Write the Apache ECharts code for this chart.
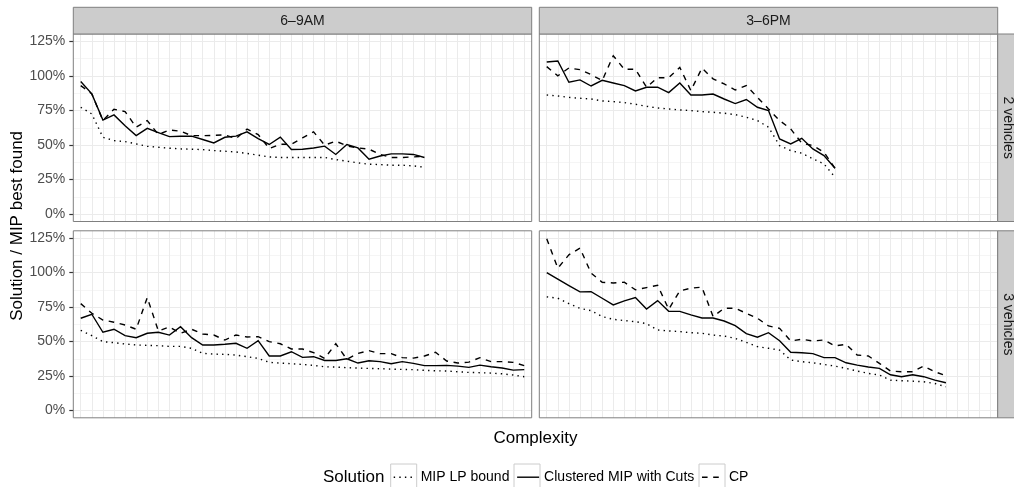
<!DOCTYPE html>
<html>
<head>
<meta charset="utf-8">
<script src="https://cdn.jsdelivr.net/npm/echarts@6/dist/echarts.min.js"></script>
<style>
  html, body { margin: 0; padding: 0; background: #fff; }
  #chart { width: 1014px; height: 487px; }
</style>
</head>
<body>
<div id="chart"></div>
<script>
// facet labels
const timeLabels = ['6–9AM', '3–6PM']
const vehicleLabels = ['2 vehicles', '3 vehicles']
const seriesNames = ['MIP LP bound', 'Clustered MIP with Cuts', 'CP']

// complexity levels (discrete x, unlabeled)
const complexityCount = 41
const yMajor = [0, 25, 50, 75, 100, 125]
const yMinor = [12.5, 37.5, 62.5, 87.5, 112.5]

// 6-9AM, 2 vehicles
const am2Lp = [77.3, 72.5, 55.6, 53.2, 52.5, 50.8, 49.1, 48.4, 47.7, 47.2, 47, 46.7, 46, 45.5, 45, 43.9, 42.7, 41.4, 41, 41, 41, 41, 41, 39.5, 38.3, 37.1, 36.1, 35.9, 35.4, 35.4, 34.9, 34]
const am2Mip = [95.9, 87, 68, 71.8, 64, 56.8, 62.1, 59, 56.1, 56.4, 56.4, 54, 51.5, 55.6, 56.4, 59.5, 54.7, 50.4, 55.7, 46.8, 47, 47.9, 49.2, 43.2, 50.4, 47.9, 39.8, 42.1, 43.6, 43.6, 43.2, 41]
const am2Cp = [93, 87, 67.7, 75.9, 74.2, 62.9, 67.7, 57.6, 60.9, 60, 56.8, 56.8, 57, 57.3, 54.7, 61.5, 57.6, 47.5, 50.6, 50.6, 55.2, 59.5, 49.9, 52.8, 49.4, 47.9, 47, 43.2, 41, 41, 41.4, 41.9]

// 3-6PM, 2 vehicles
const pm2Lp = [86.2, 85.5, 84.5, 83.8, 83.3, 81.9, 81.4, 80.7, 79.5, 78, 76.8, 76.1, 75.4, 74.9, 74.2, 73.7, 73, 72, 70.1, 67.7, 62.9, 49.6, 46, 44.1, 40, 36.4, 26.7]
const pm2Mip = [110, 110.8, 95.4, 97.1, 92.7, 96.8, 94.9, 93, 89.1, 91.8, 91.8, 87.9, 94.9, 86.2, 86.2, 86.9, 83.3, 80, 82.9, 77.3, 74.9, 54.4, 50.8, 54.9, 47.2, 42.4, 33.2]
const pm2Cp = [106.7, 100, 105.7, 104.5, 100.9, 96.6, 114.6, 104.8, 104.8, 91.8, 98.7, 98.7, 106.2, 89.4, 105.7, 97.8, 94.2, 89.8, 93, 84.5, 76.1, 67.7, 61.7, 51.3, 49.6, 44.8, 33.2]

// 6-9AM, 3 vehicles
const am3Lp = [58.1, 54.3, 49.9, 49.2, 48.2, 47.5, 47.2, 47, 46.5, 46.5, 45.1, 41.4, 40.9, 40.7, 40.2, 39, 37.8, 34.9, 34.4, 33.9, 33.4, 32.7, 31.7, 31.5, 31, 30.8, 30.5, 30.3, 30, 29.8, 29.6, 29.1, 28.8, 28.6, 28.1, 27.6, 27.4, 27.1, 26.6, 25.7, 24.5]
const am3Mip = [66.9, 69.8, 56.7, 58.9, 54.3, 52.8, 56, 56.7, 54.7, 60.8, 52.8, 47.5, 47.5, 48, 48.7, 45.1, 50.6, 39.5, 39.5, 42.6, 38.5, 39, 36.3, 36.3, 37.5, 34.4, 36.1, 35.4, 33.9, 35.4, 34.2, 32.5, 32.5, 32.7, 32.2, 31.3, 32.9, 31.7, 30.8, 29.3, 29.6]
const am3Cp = [77.5, 70.5, 65.6, 64, 62, 58.9, 81.9, 57.7, 60.6, 56, 58.9, 55.5, 54.7, 51.1, 54.7, 53.3, 53.5, 49.9, 48.4, 44.6, 44.6, 41.9, 37.8, 48.4, 37.1, 41.4, 43.4, 41.2, 41.2, 38.3, 38, 39.5, 42.2, 35.9, 34.4, 35.1, 38.3, 35.4, 35.4, 34.9, 32.5]

// 3-6PM, 3 vehicles
const pm3Lp = [82.4, 81.4, 77.5, 74.1, 72.4, 68.1, 66.1, 65.2, 64.4, 63, 58.4, 57.7, 57.2, 56.4, 56, 54.7, 54, 52.3, 49.4, 46.3, 45.1, 43.8, 36.6, 35.4, 34.6, 33.4, 32.2, 30.5, 28.6, 26.9, 25.7, 22, 21.6, 21.3, 20.8, 19.6, 17.2]
const pm3Mip = [100, 95.2, 90.6, 86, 86.2, 81.4, 76.6, 79.5, 81.9, 73.6, 79.7, 71.9, 71.9, 69.3, 67.1, 67.1, 64.9, 61.5, 55.7, 53.1, 56.4, 50.6, 42.2, 41.9, 41.2, 38.3, 38.3, 34.6, 32.9, 31.5, 30.5, 25.9, 24.5, 25.9, 24.5, 22, 20.1]
const pm3Cp = [124.5, 103.2, 112.9, 117.7, 99.6, 93, 92.5, 93, 87.5, 89.1, 90.8, 73.4, 86.7, 88.7, 89.4, 68.1, 74.1, 74.1, 70.5, 66.9, 61.3, 59.6, 50.4, 51.6, 50.4, 51.1, 46.8, 48, 40.2, 39.5, 34.2, 28.6, 28.1, 28.1, 32.2, 28.1, 25.2]

// panels in order: top-left, top-right, bottom-left, bottom-right
const panelData = [
  [am2Lp, am2Mip, am2Cp],
  [pm2Lp, pm2Mip, pm2Cp],
  [am3Lp, am3Mip, am3Cp],
  [pm3Lp, pm3Mip, pm3Cp]
]

const FONT = "'Liberation Sans', Arial, Helvetica, sans-serif"
const colLeft = [73.3, 539.3]
const colWidth = 458.4
const rowTop = [34, 230.8]
const rowHeight = [187.5, 187]
const stripTop = 7.3
const stripRight = 997.7
const lineTypes = [[1.4, 4.2], 'solid', [5.6, 5.6]]

const xTicks = []
for (let i = 0; i < complexityCount; i++) xTicks.push(i)

let myChart = echarts.init(document.getElementById('chart'), null, { renderer: 'canvas' })

let grids = [], xAxes = [], yAxes = [], series = [], graphics = []

for (let p = 0; p < 4; p++) {
  const col = p % 2, row = Math.floor(p / 2)
  grids.push({
    left: colLeft[col], top: rowTop[row], width: colWidth, height: rowHeight[row],
    show: true, backgroundColor: '#fff', borderWidth: 0,
    containLabel: false, outerBoundsMode: 'none'
  })
  xAxes.push({
    type: 'value', gridIndex: p, min: -0.67, max: complexityCount - 0.33,
    axisLine: { show: false, onZero: false },
    axisTick: { show: false, customValues: xTicks },
    axisLabel: { show: false },
    splitLine: { show: true, lineStyle: { color: '#EBEBEB', width: 1 } }
  })
  // major y axis
  yAxes.push({
    type: 'value', gridIndex: p, min: -5.3, max: 130.3, position: 'left',
    axisLine: { show: false, onZero: false },
    axisTick: { show: col === 0, inside: false, length: 4, customValues: yMajor, lineStyle: { color: '#333', width: 1.2 } },
    axisLabel: {
      show: col === 0, customValues: yMajor, formatter: '{value}%', margin: 8,
      color: '#4D4D4D', fontSize: 14, fontFamily: FONT
    },
    splitLine: { show: true, lineStyle: { color: '#EBEBEB', width: 1 } }
  })
  // minor y axis (only grid lines)
  yAxes.push({
    type: 'value', gridIndex: p, min: -5.3, max: 130.3, position: 'left',
    axisLine: { show: false, onZero: false },
    axisTick: { show: false, customValues: yMinor },
    axisLabel: { show: false },
    splitLine: { show: true, lineStyle: { color: '#F5F5F5', width: 1 } }
  })
  panelData[p].forEach((arr, s) => {
    series.push({
      name: seriesNames[s], type: 'line', xAxisIndex: p, yAxisIndex: p * 2,
      data: arr.map((v, i) => [i, v]),
      symbol: 'none', showSymbol: false, animation: false, silent: true,
      lineStyle: { color: '#000', width: 1.4, type: lineTypes[s], cap: 'butt', join: 'miter' },
      itemStyle: { color: '#000' }
    })
  })
  // panel border on top of grid lines
  graphics.push({
    type: 'rect', z: 10,
    shape: { x: colLeft[col], y: rowTop[row], width: colWidth, height: rowHeight[row] },
    style: { fill: 'none', stroke: '#7F7F7F', lineWidth: 1 }
  })
}

// top strips
for (let c = 0; c < 2; c++) {
  graphics.push({
    type: 'rect', z: 11,
    shape: { x: colLeft[c], y: stripTop, width: colWidth, height: rowTop[0] - stripTop },
    style: { fill: '#CCCCCC', stroke: '#7F7F7F', lineWidth: 1 }
  })
  graphics.push({
    type: 'text', z: 12,
    style: {
      text: timeLabels[c], x: colLeft[c] + colWidth / 2, y: (stripTop + rowTop[0]) / 2,
      align: 'center', verticalAlign: 'middle', fill: '#1A1A1A', fontSize: 14, fontFamily: FONT
    }
  })
}
// right strips
for (let r = 0; r < 2; r++) {
  graphics.push({
    type: 'rect', z: 11,
    shape: { x: stripRight, y: rowTop[r], width: 20, height: rowHeight[r] },
    style: { fill: '#CCCCCC', stroke: '#7F7F7F', lineWidth: 1 }
  })
  graphics.push({
    type: 'text', z: 12, x: stripRight + 9.8, y: rowTop[r] + rowHeight[r] / 2, rotation: -Math.PI / 2,
    style: {
      text: vehicleLabels[r], x: 0, y: 0,
      align: 'center', verticalAlign: 'middle', fill: '#1A1A1A', fontSize: 14, fontFamily: FONT
    }
  })
}
// axis titles
graphics.push({
  type: 'text', x: 17.5, y: (rowTop[0] + rowTop[1] + rowHeight[1]) / 2, rotation: Math.PI / 2,
  style: { text: 'Solution / MIP best found', x: 0, y: 0, align: 'center', verticalAlign: 'middle', fill: '#000', fontSize: 17, fontFamily: FONT }
})
graphics.push({
  type: 'text',
  style: { text: 'Complexity', x: colLeft[0] + (colLeft[1] + colWidth - colLeft[0]) / 2, y: 438, align: 'center', verticalAlign: 'middle', fill: '#000', fontSize: 17, fontFamily: FONT }
})
// legend title and key boxes
graphics.push({
  type: 'text',
  style: { text: 'Solution', x: 323, y: 477, align: 'left', verticalAlign: 'middle', fill: '#000', fontSize: 17, fontFamily: FONT }
})
;[390.7, 514, 699].forEach(bx => {
  graphics.push({
    type: 'rect', z: 0,
    shape: { x: bx, y: 464, width: 26, height: 26 },
    style: { fill: '#fff', stroke: '#CCCCCC', lineWidth: 1 }
  })
})

let option = {
  animation: false,
  backgroundColor: '#fff',
  grid: grids,
  xAxis: xAxes,
  yAxis: yAxes,
  legend: {
    data: seriesNames, left: 393, top: 470, orient: 'horizontal',
    itemWidth: 22, itemHeight: 18, itemGap: 7, padding: 0,
    selectedMode: false,
    itemStyle: { opacity: 0, borderWidth: 0 },
    lineStyle: { width: 1.4, color: '#000' },
    textStyle: { color: '#000', fontSize: 14, fontFamily: FONT }
  },
  graphic: graphics,
  series: series
}
myChart.setOption(option)
</script>
</body>
</html>
